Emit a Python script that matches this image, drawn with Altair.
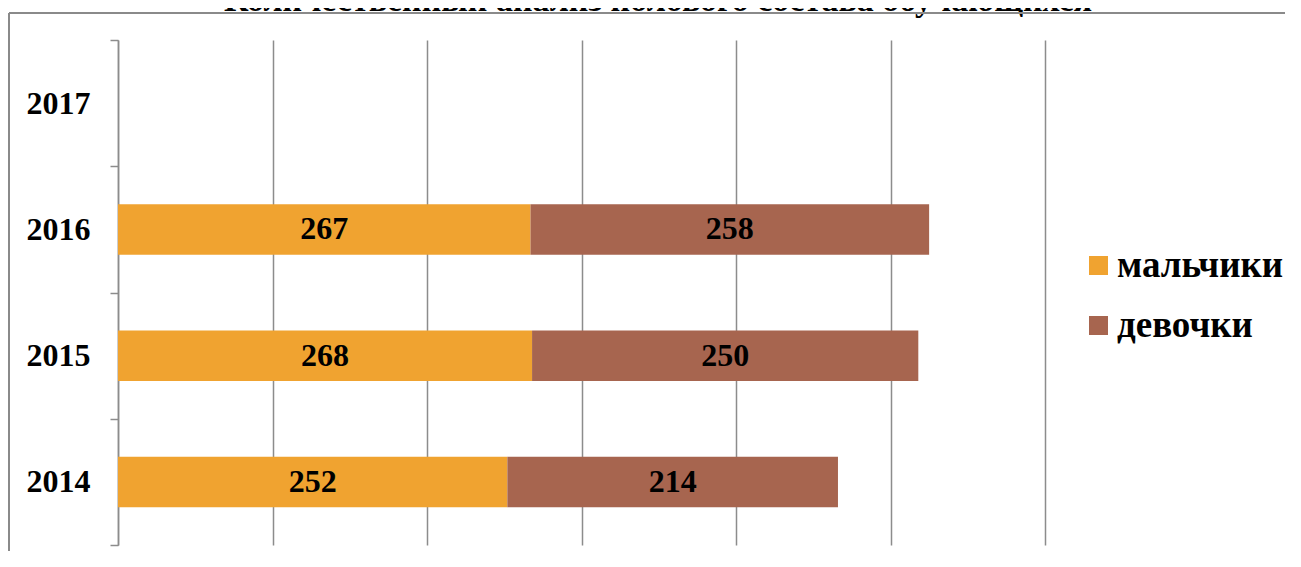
import altair as alt
import pandas as pd

years = ["2017", "2016", "2015", "2014"]
data_years = ["2016", "2015", "2014"]
boys = [267, 268, 252]
girls = [258, 250, 214]
series = ["мальчики", "девочки"]
colors = ["#F0A330", "#A7654F"]
title_text = "Количественный анализ полового состава обучающихся"
x_grid = [0, 100, 200, 300, 400, 500, 600]

rows = []
for yr, b, g in zip(data_years, boys, girls):
    rows.append({"year": yr, "group": series[0], "value": b, "ord": 0})
    rows.append({"year": yr, "group": series[1], "value": g, "ord": 1})
df = pd.DataFrame(rows)

FONT = "Liberation Serif"
GRAY = "#8c8c8c"

y_enc = alt.Y(
    "year:N",
    sort=years,
    scale=alt.Scale(domain=years, paddingInner=0, paddingOuter=0),
    axis=alt.Axis(
        title=None,
        tickBand="extent",
        tickSize=8,
        tickColor=GRAY,
        tickWidth=1.5,
        domainColor=GRAY,
        domainWidth=1.5,
        labelFont=FONT,
        labelFontSize=32,
        labelFontWeight="bold",
        labelColor="black",
        labelPadding=20,
        grid=False,
    ),
)

x_scale = alt.Scale(domain=[0, 600], nice=False)

base = alt.Chart(df).transform_stack(
    stack="value", groupby=["year"], as_=["x0", "x1"], sort=[alt.SortField("ord")]
).transform_calculate(mid="(datum.x0 + datum.x1) / 2")

bars = base.mark_bar(height=alt.RelativeBandSize(0.4)).encode(
    x=alt.X(
        "x0:Q",
        scale=x_scale,
        axis=alt.Axis(
            values=x_grid,
            labels=False,
            ticks=False,
            domain=False,
            title=None,
            grid=True,
            gridColor=GRAY,
            gridWidth=1.5,
        ),
    ),
    x2="x1:Q",
    y=y_enc,
    color=alt.Color(
        "group:N",
        scale=alt.Scale(domain=series, range=colors),
        sort=series,
        legend=alt.Legend(
            orient="none",
            legendX=962,
            legendY=207,
            title=None,
            symbolType="square",
            symbolSize=361,
            symbolStrokeWidth=0,
            labelFont=FONT,
            labelFontSize=37,
            labelFontWeight="bold",
            labelColor="black",
            labelOffset=0,
            labelLimit=400,
            rowPadding=22,
            padding=0,
        ),
    ),
)

labels = base.mark_text(
    font=FONT, fontSize=32, fontWeight="bold", color="black", baseline="middle"
).encode(
    x=alt.X("mid:Q", scale=x_scale),
    y=alt.Y("year:N", sort=years),
    text=alt.Text("value:Q"),
)

title_df = pd.DataFrame({"t": [title_text]})
title = alt.Chart(title_df).mark_text(
    font=FONT, fontSize=34, fontWeight="bold", color="black",
    baseline="alphabetic", align="center",
).encode(text="t:N", x=alt.value(540), y=alt.value(-29))

frame_df = pd.DataFrame({"a": [0]})
frame_top = alt.Chart(frame_df).mark_rule(color="#8a8a8a", strokeWidth=2).encode(
    x=alt.value(-109), x2=alt.value(1250), y=alt.value(-27)
)
frame_left = alt.Chart(frame_df).mark_rule(color="#8a8a8a", strokeWidth=2).encode(
    x=alt.value(-109), y=alt.value(-27), y2=alt.value(560)
)

chart = alt.layer(bars, labels, title, frame_top, frame_left).properties(
    width=927,
    height=505,
    padding={"left": 110, "top": 32, "right": 240, "bottom": 6},
    autosize=alt.AutoSizeParams(type="none"),
).configure_view(stroke=None).configure_legend(labelFont=FONT)

chart.save("out.html", embed_options={"renderer": "svg", "actions": False})
